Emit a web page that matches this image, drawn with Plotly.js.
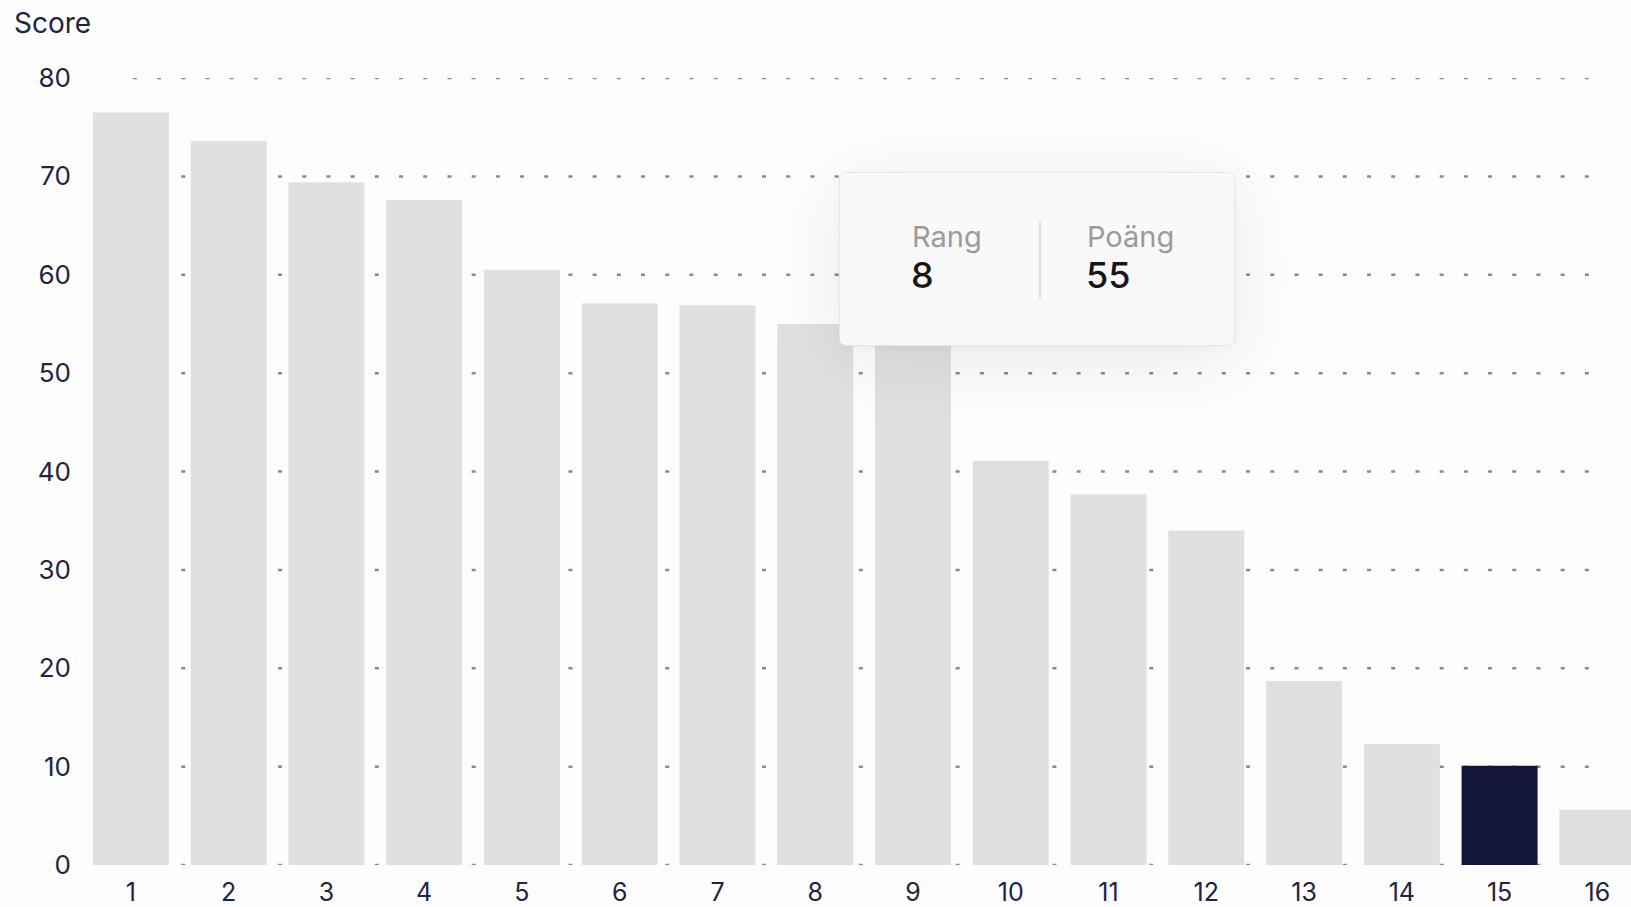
<!DOCTYPE html>
<html>
<head>
<meta charset="utf-8">
<script src="https://cdn.plot.ly/plotly-3.0.1.min.js"></script>
<style>
  html, body { margin: 0; padding: 0; background: #fdfdfd; overflow: hidden; }
  #wrap { position: relative; width: 1631px; height: 907px; }
  #chart { position: absolute; left: 0; top: 0; width: 1631px; height: 907px; }
  #tip {
    position: absolute; left: 839px; top: 172px; width: 394px; height: 172px;
    background: #f9f9f9; border: 1px solid #e7e7e7; border-radius: 7px;
    box-shadow: 0 14px 80px rgba(0,0,0,0.08), 0 2px 10px rgba(0,0,0,0.03);
    font-family: Inter, "Noto Sans", sans-serif;
  }
  .lab { position: absolute; font-size: 29px; color: #9b9b9b; line-height: 1; }
  .val { position: absolute; font-size: 36px; font-weight: 500; color: #161616; line-height: 1; }
  #div { position: absolute; left: 199px; top: 49px; width: 2px; height: 76px; background: #dedede; }
</style>
</head>
<body>
<div id="wrap">
  <div id="chart"></div>
  <div id="tip">
    <div class="lab" id="l1" style="left:72px; top:49px;">Rang</div>
    <div class="val" id="v1" style="left:71px; top:84px;">8</div>
    <div id="div"></div>
    <div class="lab" id="l2" style="left:247px; top:49px;">Poäng</div>
    <div class="val" id="v2" style="left:246px; top:84px;">55</div>
  </div>
</div>
<script>
// ---- data ----
const ranks = [1, 2, 3, 4, 5, 6, 7, 8, 9, 10, 11, 12, 13, 14, 15, 16];
const scores = [76.5, 73.6, 69.4, 67.6, 60.5, 57.1, 56.9, 55, 54, 41.1, 37.7, 34.0, 18.7, 12.3, 10.1, 5.6];
const highlightRank = 15;
const yTicks = [0, 10, 20, 30, 40, 50, 60, 70, 80];
const xTickLabels = ranks.map(String);
const tooltipLabels = ["Rang", "Poäng"];
const tooltipRank = 8;

// ---- styles ----
const barColor = "#e0e0e0";
const highlightColor = "#13163a";
const textColor = "#22243f";
const gridColor = "#8288ad";

const colors = ranks.map(r => r === highlightRank ? highlightColor : barColor);

const trace = {
  type: "bar",
  x: ranks,
  y: scores,
  marker: { color: colors, line: { width: 0 } },
  hoverinfo: "none"
};

const shapes = yTicks.map(v => ({
  type: "line", layer: "below",
  xref: "x", yref: "y",
  x0: 1.02, x1: 15.95, y0: v, y1: v,
  line: { color: gridColor, width: 2.5, dash: "4px,20.2px" }
}));

const layout = {
  width: 1631, height: 907,
  paper_bgcolor: "#fdfdfd", plot_bgcolor: "rgba(0,0,0,0)",
  margin: { l: 82, r: 0, t: 78, b: 42, pad: 0 },
  bargap: 0.2226,
  showlegend: false,
  font: { family: "Inter, 'Noto Sans', sans-serif", color: textColor, size: 26 },
  title: {
    text: "Score", xref: "container", yref: "container",
    x: 14 / 1631, xanchor: "left", y: 1 - 23 / 907, yanchor: "middle",
    font: { family: "Inter, 'Noto Sans', sans-serif", size: 28, color: textColor }
  },
  xaxis: {
    type: "linear", range: [0.5, 16.344], fixedrange: true,
    tickmode: "array", tickvals: ranks, ticktext: xTickLabels,
    showgrid: false, zeroline: false, showline: false, ticks: "",
    ticklabelstandoff: 10,
    tickfont: { size: 25, color: textColor }
  },
  yaxis: {
    range: [0, 80], fixedrange: true,
    tickmode: "array", tickvals: yTicks, ticktext: yTicks.map(String),
    showgrid: false, zeroline: false, showline: false, ticks: "",
    ticklabelstandoff: 10,
    tickfont: { size: 26, color: textColor }
  },
  shapes: shapes
};

Plotly.newPlot("chart", [trace], layout, { displayModeBar: false, staticPlot: true });

document.getElementById("l1").textContent = tooltipLabels[0];
document.getElementById("l2").textContent = tooltipLabels[1];
document.getElementById("v1").textContent = String(tooltipRank);
document.getElementById("v2").textContent = String(Math.round(scores[ranks.indexOf(tooltipRank)]));
</script>
</body>
</html>
